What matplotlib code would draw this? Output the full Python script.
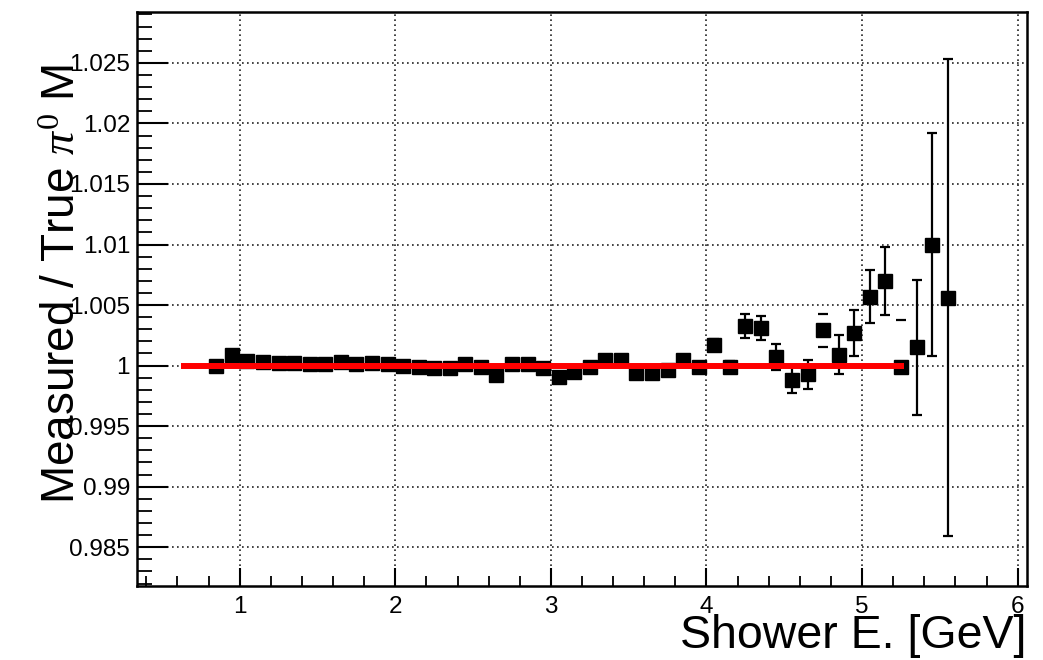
import matplotlib
matplotlib.use("Agg")
import matplotlib.pyplot as plt
from matplotlib.ticker import MultipleLocator, FixedLocator
import numpy as np

plt.rcParams['font.family'] = ['Liberation Sans', 'DejaVu Sans']
plt.rcParams['mathtext.fontset'] = 'custom'
plt.rcParams['mathtext.rm'] = 'Liberation Serif'
plt.rcParams['mathtext.it'] = 'Liberation Serif:italic'

# ---- data ----
energy = [0.85, 0.95, 1.05, 1.15, 1.25, 1.35, 1.45, 1.55, 1.65, 1.75,
          1.85, 1.95, 2.05, 2.15, 2.25, 2.35, 2.45, 2.55, 2.65, 2.75,
          2.85, 2.95, 3.05, 3.15, 3.25, 3.35, 3.45, 3.55, 3.65, 3.75,
          3.85, 3.95, 4.05, 4.15, 4.25, 4.35, 4.45, 4.55, 4.65, 4.75,
          4.85, 4.95, 5.05, 5.15, 5.25, 5.35, 5.45, 5.55]
ratio = [1.0000, 1.0009, 1.0004, 1.0003, 1.0002, 1.0002, 1.0001, 1.0001, 1.0003, 1.0001,
         1.0002, 1.0001, 1.0000, 0.9999, 0.9998, 0.9998, 1.0001, 0.9999, 0.9992, 1.0001,
         1.0001, 0.9998, 0.9991, 0.9995, 0.9999, 1.0005, 1.0005, 0.9994, 0.9994, 0.9996,
         1.0005, 0.9999, 1.0017, 0.9999, 1.0033, 1.0031, 1.0007, 0.9988, 0.9993, 1.0029,
         1.0009, 1.0027, 1.0057, 1.0070, 0.9999, 1.0015, 1.0100, 1.0056]
err_lo = [0.0002] * 32 + [0.0005, 0.0005, 0.0010, 0.0010, 0.0011, 0.0011, 0.0012, 0.0014,
                          0.0016, 0.0019, 0.0022, 0.0028, 0.0000, 0.0056, 0.0092, 0.0197]
err_hi = [0.0002] * 32 + [0.0005, 0.0005, 0.0010, 0.0010, 0.0011, 0.0011, 0.0012, 0.0014,
                          0.0016, 0.0019, 0.0022, 0.0028, 0.0039, 0.0056, 0.0092, 0.0197]
# points whose error bars show only end caps in the reference
caps_only = [4.75, 5.25]

fit_range = [0.62, 5.27]
fit_value = 1.0

x_ticks = [1, 2, 3, 4, 5, 6]
y_ticks = [0.985, 0.99, 0.995, 1.0, 1.005, 1.01, 1.015, 1.02, 1.025]
y_ticklabels = ['0.985', '0.99', '0.995', '1', '1.005', '1.01', '1.015', '1.02', '1.025']
x_label = 'Shower E. [GeV]'
y_label = r'Measured / True $\pi^{0}$ M'

# ---- figure ----
W, H = 1043, 660
fig = plt.figure(figsize=(W / 100, H / 100), dpi=100)
ax = fig.add_axes([137 / W, 1 - 586 / H, (1027 - 137) / W, (586 - 12) / H])

ax.set_xlim(0.34, 6.06)
ax.set_ylim(0.9818, 1.0292)

ax.grid(True, which='major', color='#222222', linestyle=(0, (1, 2.0)), linewidth=1.2)
ax.set_axisbelow(True)

energy = np.array(energy)
ratio = np.array(ratio)
err_lo = np.array(err_lo)
err_hi = np.array(err_hi)
mask_caps = np.isin(energy, caps_only)

# normal points with error bars
ax.errorbar(energy[~mask_caps], ratio[~mask_caps],
            yerr=[err_lo[~mask_caps], err_hi[~mask_caps]],
            fmt='s', color='black', markersize=10.5, elinewidth=1.6,
            capsize=3.8, capthick=1.6, zorder=3)
# points with caps only
ax.errorbar(energy[mask_caps], ratio[mask_caps],
            yerr=[err_lo[mask_caps], err_hi[mask_caps]],
            fmt='s', color='black', markersize=10.5, elinewidth=0,
            capsize=3.8, capthick=1.6, zorder=3)

# fit line
ax.plot(fit_range, [fit_value, fit_value], color='#ff0000', linewidth=4.3,
        solid_capstyle='butt', zorder=4)

# ticks
ax.xaxis.set_major_locator(FixedLocator(x_ticks))
ax.xaxis.set_minor_locator(MultipleLocator(0.2))
ax.yaxis.set_major_locator(FixedLocator(y_ticks))
ax.set_yticklabels(y_ticklabels)
ax.yaxis.set_minor_locator(MultipleLocator(0.001))
ax.tick_params(axis='both', which='both', direction='in', top=False, right=False,
               color='black', labelsize=17.5)
ax.tick_params(axis='x', which='major', length=13, width=1.5, pad=7)
ax.tick_params(axis='x', which='minor', length=7, width=1.3)
ax.tick_params(axis='y', which='major', length=22, width=1.5, pad=5)
ax.tick_params(axis='y', which='minor', length=11, width=1.3)

for s in ax.spines.values():
    s.set_linewidth(1.8)
    s.set_color('black')

# labels (ROOT style: placed at the end of the axes)
fig.text(1027 / W, 1 - 636 / H, x_label, ha='right', va='center', fontsize=33.5)
fig.text(63 / W, 1 - 284 / H, y_label, ha='center', va='center', rotation=90, fontsize=33)

fig.savefig('out.png', dpi=100)
